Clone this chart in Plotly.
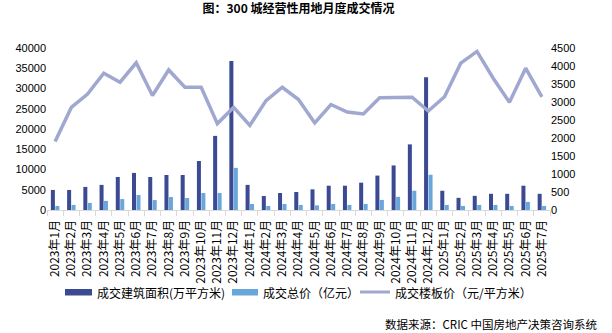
import plotly.graph_objects as go

months = [
    "2023年1月", "2023年2月", "2023年3月", "2023年4月", "2023年5月", "2023年6月",
    "2023年7月", "2023年8月", "2023年9月", "2023年10月", "2023年11月", "2023年12月",
    "2024年1月", "2024年2月", "2024年3月", "2024年4月", "2024年5月", "2024年6月",
    "2024年7月", "2024年8月", "2024年9月", "2024年10月", "2024年11月", "2024年12月",
    "2025年1月", "2025年2月", "2025年3月", "2025年4月", "2025年5月", "2025年6月",
    "2025年7月",
]

# 成交建筑面积（万平方米）
area = [
    4950, 4950, 5700, 6200, 8150, 9150, 8150, 8650, 8650, 12100, 18300, 36800,
    6200, 3450, 4200, 4450, 5100, 6000, 6000, 6750, 8500, 11000, 16200, 32800,
    4750, 3000, 3500, 4000, 4000, 6000, 4000,
]

# 成交总价（亿元）
total = [
    1000, 1250, 1750, 2250, 2700, 3700, 2450, 3200, 2950, 4200, 4200, 10400,
    1480, 1000, 1480, 1250, 1150, 1490, 1250, 1490, 2490, 3250, 4750, 8700,
    1250, 1000, 1250, 1250, 1000, 2000, 1000,
]

# 成交楼板价（元/平方米）
price = [
    1900, 2850, 3220, 3800, 3550, 4090, 3180, 3890, 3410, 3410, 2400, 2850,
    2350, 3040, 3410, 3070, 2420, 2930, 2720, 2670, 3120, 3125, 3135, 2750,
    3145, 4080, 4405, 3660, 2990, 3940, 3145,
]

names = ["成交建筑面积(万平方米)", "成交总价（亿元）", "成交楼板价（元/平方米）"]
colors = ["#3B4A93", "#68A6DB", "#A0A7D0"]

cjk = "Noto Sans CJK SC"

# plot area in pixels
W, H = 612, 333
L, R, T, B = 47, 62, 48, 123
PW, PH = W - L - R, H - T - B


def px(x):
    return (x - L) / PW


def py(y):
    return (H - B - y) / PH


fig = go.Figure()
fig.add_trace(go.Bar(
    x=months, y=area, name=names[0],
    marker=dict(color=colors[0], line=dict(width=0)),
))
fig.add_trace(go.Bar(
    x=months, y=total, name=names[1],
    marker=dict(color=colors[1], line=dict(width=0)),
))
fig.add_trace(go.Scatter(
    x=months, y=price, name=names[2], yaxis="y2",
    mode="lines", line=dict(color=colors[2], width=3.5),
))

# hand-drawn legend row: wide swatches followed by labels
legend_y = 292
shapes = [
    dict(type="rect", xref="paper", yref="paper",
         x0=px(65), x1=px(92), y0=py(289), y1=py(295.5),
         fillcolor=colors[0], line=dict(width=0)),
    dict(type="rect", xref="paper", yref="paper",
         x0=px(232), x1=px(258), y0=py(289), y1=py(295.5),
         fillcolor=colors[1], line=dict(width=0)),
    dict(type="line", xref="paper", yref="paper",
         x0=px(360), x1=px(390), y0=py(legend_y), y1=py(legend_y),
         line=dict(color=colors[2], width=3)),
]
annotations = [
    dict(text=names[0], x=px(95), y=py(legend_y)),
    dict(text=names[1], x=px(261), y=py(legend_y)),
    dict(text=names[2], x=px(393), y=py(legend_y)),
]
for a in annotations:
    a.update(xref="paper", yref="paper", xanchor="left", yanchor="middle",
             showarrow=False, font=dict(family=cjk, size=12, color="#000000"))

annotations.append(dict(
    text="数据来源：CRIC 中国房地产决策咨询系统",
    xref="paper", yref="paper", x=px(599), xanchor="right",
    y=py(324), yanchor="middle", showarrow=False,
    font=dict(family=cjk, size=11.5, color="#000000"),
))

fig.update_layout(
    width=W, height=H,
    margin=dict(l=L, r=R, t=T, b=B),
    paper_bgcolor="white", plot_bgcolor="white",
    barmode="group", bargap=0.45, bargroupgap=0.1,
    showlegend=False,
    font=dict(family=cjk, size=11, color="#000000"),
    title=dict(
        text="<b>图：300 城经营性用地月度成交情况</b>",
        x=px(298.5), xanchor="center", xref="paper",
        y=1 - 9 / H, yanchor="middle", yref="container",
        font=dict(family=cjk, size=12, color="#000000"),
    ),
    xaxis=dict(
        type="category", tickangle=-90,
        showline=True, linecolor="#D9D9D9", linewidth=1,
        ticks="outside", tickson="boundaries", ticklen=5, tickcolor="#D9D9D9",
        ticklabelstandoff=4,
        showgrid=False, tickfont=dict(family=cjk, size=12),
    ),
    yaxis=dict(
        range=[0, 40000], dtick=5000, tickformat="d",
        showgrid=False, zeroline=False,
        tickfont=dict(family="Liberation Sans", size=11), ticks="",
    ),
    yaxis2=dict(
        range=[0, 4500], dtick=500, tickformat="d",
        overlaying="y", side="right",
        showgrid=False, zeroline=False,
        tickfont=dict(family="Liberation Sans", size=11), ticks="",
    ),
    shapes=shapes,
    annotations=annotations,
)

fig.write_html("out.html")
